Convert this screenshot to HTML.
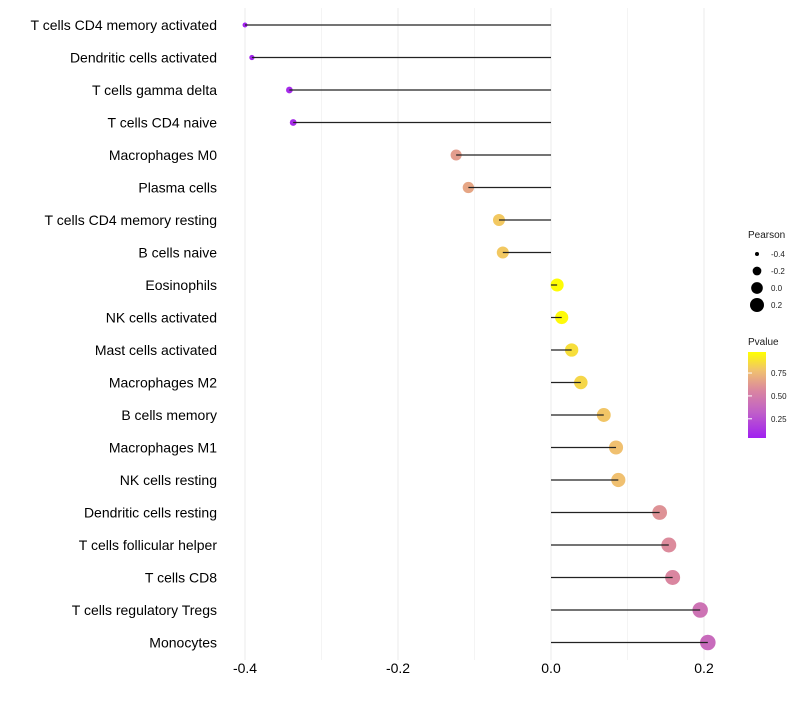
<!DOCTYPE html>
<html><head><meta charset="utf-8"><style>
body{margin:0;background:#fff;font-family:"Liberation Sans",sans-serif;}
</style></head><body>
<svg id="c" width="800" height="700" xmlns="http://www.w3.org/2000/svg">
<defs><linearGradient id="pg" x1="0" y1="1" x2="0" y2="0">
<stop offset="0" stop-color="#a020f0"/><stop offset="0.3" stop-color="#c060c8"/><stop offset="0.55" stop-color="#da86a0"/><stop offset="0.78" stop-color="#f0c070"/><stop offset="1" stop-color="#ffff00"/></linearGradient></defs>
</svg>
<script>
const categories=["T cells CD4 memory activated","Dendritic cells activated","T cells gamma delta","T cells CD4 naive","Macrophages M0","Plasma cells","T cells CD4 memory resting","B cells naive","Eosinophils","NK cells activated","Mast cells activated","Macrophages M2","B cells memory","Macrophages M1","NK cells resting","Dendritic cells resting","T cells follicular helper","T cells CD8","T cells regulatory  Tregs ","Monocytes"];
const pearson=[-0.400,-0.391,-0.342,-0.337,-0.124,-0.108,-0.068,-0.063,0.008,0.014,0.027,0.039,0.069,0.085,0.088,0.142,0.154,0.159,0.195,0.205];
const pvalue=[0.05,0.06,0.08,0.09,0.60,0.64,0.78,0.78,0.97,0.96,0.86,0.83,0.77,0.75,0.75,0.55,0.52,0.50,0.40,0.36];
const xTicks=[-0.4,-0.2,0.0,0.2];
const xTickLabels=["-0.4","-0.2","0.0","0.2"];
const sizeLegend=[-0.4,-0.2,0.0,0.2];
const pLegend=[0.25,0.5,0.75];

const svg=document.getElementById('c');
const NS="http://www.w3.org/2000/svg";
const x=v=>551+v*765;
const y=i=>25+i*32.5;
const r=v=>Math.sqrt(Math.max(4,60+(v-0.2)*90));
const stops=[[0.04,[160,32,240]],[0.3,[192,96,200]],[0.5,[218,134,160]],[0.75,[240,192,112]],[0.98,[255,255,0]]];
function col(p){p=Math.max(0.04,Math.min(0.98,p));for(let k=1;k<stops.length;k++){if(p<=stops[k][0]){const a=stops[k-1],b=stops[k];const t=(p-a[0])/(b[0]-a[0]);const c=a[1].map((v,j)=>Math.round(v+(b[1][j]-v)*t));return `rgb(${c})`;}}return 'rgb(255,255,0)';}
function mk(t,a,txt){const e=document.createElementNS(NS,t);for(const k in a)e.setAttribute(k,a[k]);if(txt!==undefined)e.textContent=txt;svg.appendChild(e);return e;}
for(let k=0;k<7;k++){const v=-0.4+k*0.1;const g=mk('line',{x1:x(v),x2:x(v),y1:8,y2:660,stroke:(k%2==0)?'#ebebeb':'#f4f4f4','stroke-width':1});

}
categories.forEach((c,i)=>{
const t=mk('text',{x:217,y:y(i)+5,'text-anchor':'end','font-size':14,fill:'#000'},c);
t.setAttribute('xml:space','preserve');


const p=mk('circle',{cx:x(pearson[i]),cy:y(i),r:r(pearson[i]),fill:col(pvalue[i])});


const l=mk('line',{x1:x(0),x2:x(pearson[i]),y1:y(i),y2:y(i),stroke:'#222','stroke-width':1.2});


});
xTicks.forEach((v,i)=>{const t=mk('text',{x:x(v),y:673,'text-anchor':'middle','font-size':14,fill:'#000'},xTickLabels[i]);

});
let t=mk('text',{x:748,y:238,'font-size':10,fill:'#1a1a1a'},'Pearson');


sizeLegend.forEach((v,i)=>{const cy=254+i*17;
const c=mk('circle',{cx:757,cy:cy,r:Math.sqrt(Math.max(4,49+(v-0.2)*75)),fill:'#000'});


const l=mk('text',{x:771,y:cy+3,'font-size':8,fill:'#1a1a1a'},v.toFixed(1));

});
t=mk('text',{x:748,y:345,'font-size':10,fill:'#1a1a1a'},'Pvalue');


const bar=mk('rect',{x:748,y:352,width:18,height:86,fill:'url(#pg)'});


const py=p=>438-(p-0.04)/(0.98-0.04)*86;
pLegend.forEach(p=>{
const a=mk('line',{x1:748,x2:752,y1:py(p),y2:py(p),stroke:'#fff','stroke-width':1});


const l=mk('text',{x:771,y:py(p)+3,'font-size':8,fill:'#1a1a1a'},p.toFixed(2));

});
</script>
</body></html>
